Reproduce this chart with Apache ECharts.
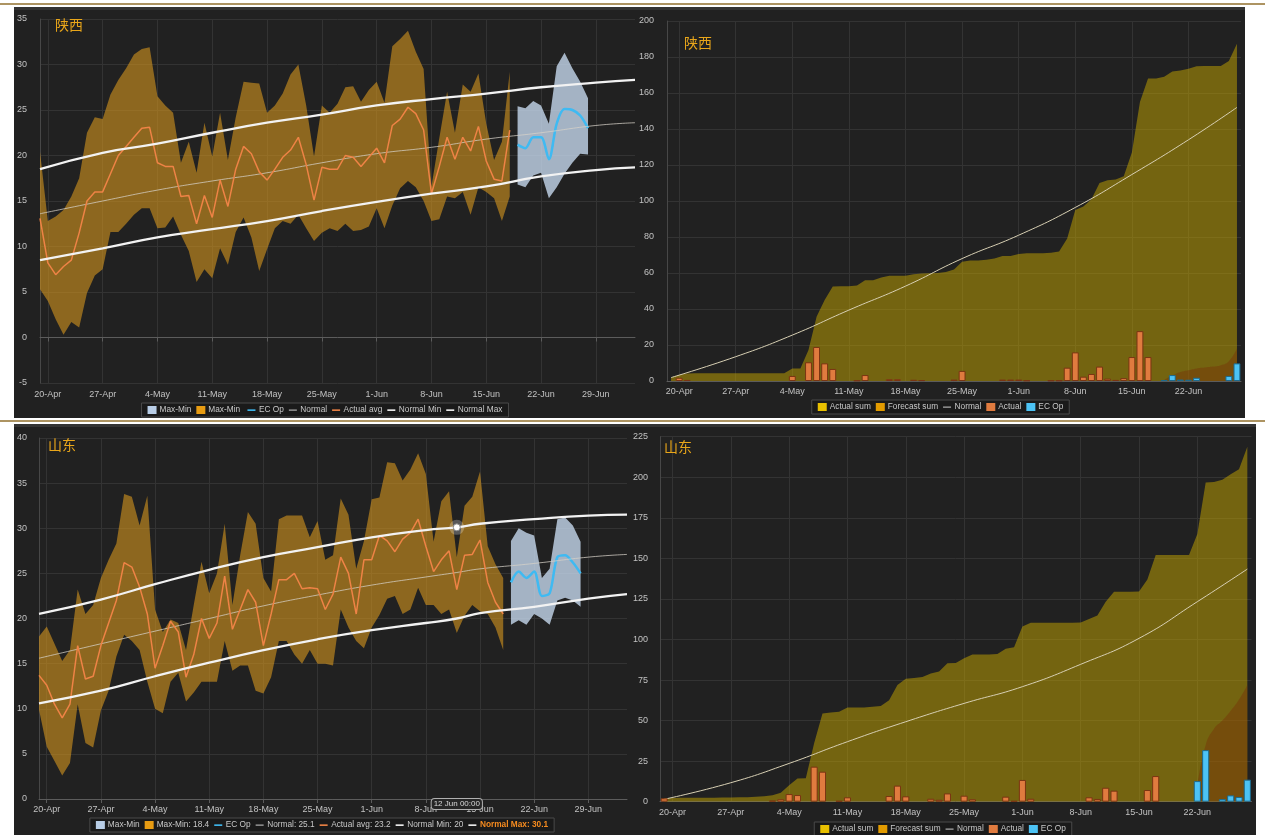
<!DOCTYPE html>
<html><head><meta charset="utf-8">
<script src="https://cdn.jsdelivr.net/npm/echarts@6/dist/echarts.min.js"></script>
<style>
html,body{margin:0;padding:0;background:#fff;width:1265px;height:838px;overflow:hidden;position:relative;}
.rule{position:absolute;left:0;width:1265px;height:2px;background:#ad9462;}
.panel{position:absolute;background:#212121;}
.strip{position:absolute;height:3px;background:#343434;z-index:5;}
</style></head><body>
<div class="rule" style="top:3px"></div>
<div class="rule" style="top:420px"></div>
<div id="tl" class="panel" style="left:14px;top:7px;width:622px;height:411px"></div>
<div id="tr" class="panel" style="left:636px;top:7px;width:609px;height:411px"></div>
<div id="bl" class="panel" style="left:14px;top:424px;width:616px;height:411px"></div>
<div id="br" class="panel" style="left:630px;top:424px;width:626px;height:411px"></div>
<div class="strip" style="left:14px;top:7px;width:622px"></div>
<div class="strip" style="left:636px;top:7px;width:609px"></div>
<div class="strip" style="left:14px;top:424px;width:616px"></div>
<div class="strip" style="left:630px;top:424px;width:626px"></div>
<script>
// ---------- categories ----------
const days = ['19-Apr','20-Apr','21-Apr','22-Apr','23-Apr','24-Apr','25-Apr','26-Apr','27-Apr','28-Apr','29-Apr','30-Apr',
'1-May','2-May','3-May','4-May','5-May','6-May','7-May','8-May','9-May','10-May','11-May','12-May','13-May','14-May','15-May','16-May','17-May','18-May','19-May','20-May','21-May','22-May','23-May','24-May','25-May','26-May','27-May','28-May','29-May','30-May','31-May',
'1-Jun','2-Jun','3-Jun','4-Jun','5-Jun','6-Jun','7-Jun','8-Jun','9-Jun','10-Jun','11-Jun','12-Jun','13-Jun','14-Jun','15-Jun','16-Jun','17-Jun','18-Jun','19-Jun','20-Jun','21-Jun','22-Jun','23-Jun','24-Jun','25-Jun','26-Jun','27-Jun','28-Jun','29-Jun','30-Jun',
'1-Jul','2-Jul','3-Jul','4-Jul'];
const precipDays = days.slice(0, days.indexOf('28-Jun') + 1);
const weekTicks = ['20-Apr','27-Apr','4-May','11-May','18-May','25-May','1-Jun','8-Jun','15-Jun','22-Jun','29-Jun'];
const obsStart = '19-Apr';
const fcStart = '19-Jun';

// ---------- 陕西 temperature ----------
const sxMax = [20.4,12.8,13.3,14.0,15.5,17.5,22.5,24.2,24.0,26.7,28.3,29.6,
31.1,31.7,31.9,26.5,25.5,24.7,19.2,21.5,18.1,23.6,19.9,24.7,19.5,24.2,28.1,28.0,27.9,24.7,25.5,26.8,28.9,30.0,25.5,19.9,25.5,24.7,25.7,27.5,27.6,25.9,27.2,
28.1,25.8,32.0,32.8,33.7,31.4,29.5,16.6,21.9,27.0,22.5,27.8,27.0,29.0,23.5,19.5,21.5,29.2];
const sxMin = [5.3,4.0,2.0,0.3,1.7,1.1,4.9,6.8,7.5,11.6,11.6,12.5,
13.5,14.2,14.2,12.0,12.1,13.3,11.3,9.5,6.1,7.5,6.5,9.8,8.0,11.6,13.2,11.0,7.3,9.7,12.0,12.8,12.5,13.5,12.0,10.6,11.5,12.0,11.7,12.5,11.7,11.8,12.2,
14.2,12.0,14.5,16.4,17.2,16.5,15.0,12.8,13.0,15.5,15.3,16.0,13.5,16.5,16.0,15.3,12.8,15.5];
const sxAvg = [13.1,8.2,6.9,7.8,8.5,11.5,15.0,16.0,16.0,18.0,20.0,21.0,
22.0,23.0,23.1,19.2,18.8,18.8,15.5,15.6,12.5,15.6,13.2,17.3,14.4,18.5,21.0,20.2,18.2,17.3,18.5,19.8,20.6,22.0,19.0,15.1,18.7,18.5,18.5,20.0,19.8,18.8,19.8,
20.8,19.2,23.3,24.0,25.3,24.6,22.8,15.8,18.8,22.0,19.6,22.0,20.5,23.2,19.4,17.4,17.2,22.8];
const sxEcMax = [25.4,25.2,26.0,25.5,23.5,29.8,31.3,29.6,28.1,26.3];
const sxEcMin = [16.8,16.5,17.8,18.1,15.3,16.5,18.0,19.2,20.2,20.1];
const sxEcOp  = [21.2,20.8,22.0,22.0,19.6,23.5,25.1,25.0,24.4,23.0];
const sxNormal = [['19-Apr',13.6],['27-Apr',15.0],['4-May',16.2],['11-May',17.2],['18-May',18.1],['25-May',19.2],['1-Jun',20.2],['8-Jun',20.9],['15-Jun',21.8],['22-Jun',22.5],['29-Jun',23.3],['4-Jul',23.6]];
const sxNormMin = [['19-Apr',8.5],['27-Apr',9.8],['4-May',11.0],['11-May',11.9],['18-May',12.8],['25-May',13.9],['1-Jun',14.9],['8-Jun',15.8],['15-Jun',16.6],['22-Jun',17.7],['29-Jun',18.4],['4-Jul',18.7]];
const sxNormMax = [['19-Apr',18.5],['27-Apr',20.3],['4-May',21.3],['11-May',22.5],['18-May',23.6],['25-May',24.5],['1-Jun',25.5],['8-Jun',26.2],['15-Jun',26.8],['22-Jun',27.5],['29-Jun',28.0],['4-Jul',28.3]];

// ---------- 山东 temperature ----------
const sdMax = [18.0,19.1,17.2,15.3,16.5,23.2,20.5,21.5,24.5,26.5,28.3,33.8,
33.5,30.3,33.6,21.0,18.5,19.9,19.5,16.5,21.5,26.3,22.8,25.0,30.5,21.5,27.0,31.8,30.5,24.5,23.0,31.0,31.4,31.4,31.4,29.0,30.8,26.5,27.0,33.3,31.5,25.5,28.6,
33.2,33.4,37.3,37.2,35.3,36.5,38.3,36.0,28.5,33.0,34.1,26.8,32.5,33.5,36.3,28.0,26.0,24.5];
const sdMin = [9.9,5.8,4.2,2.6,4.0,10.5,6.2,5.7,9.8,12.0,15.8,18.2,
17.5,16.5,13.0,10.0,9.5,13.0,14.0,10.8,11.8,13.0,13.0,13.0,17.5,14.2,14.8,14.8,12.0,11.7,13.5,17.5,17.5,16.0,15.0,16.5,15.0,15.0,14.8,21.0,19.0,17.5,16.7,
19.0,20.4,22.2,22.5,20.5,21.0,23.4,21.5,21.5,20.5,21.0,18.4,20.3,21.5,20.8,20.5,19.0,16.5];
const sdAvg = [13.7,12.6,10.5,9.0,10.5,17.0,13.3,13.6,17.0,19.5,22.0,26.2,
25.7,23.5,20.5,14.5,17.0,19.7,18.5,13.5,16.0,20.0,17.8,19.5,24.7,18.8,21.0,23.2,21.8,17.0,20.5,24.3,24.3,25.0,23.3,23.4,23.3,21.0,22.7,26.8,25.0,20.5,26.5,
26.5,29.2,28.6,27.4,28.8,29.5,31.0,28.0,25.2,26.5,27.5,23.2,27.0,27.1,28.7,24.0,21.8,20.5];
const sdEcMax = [28.6,30.0,29.5,29.2,24.5,25.5,31.0,31.2,30.3,28.5];
const sdEcMin = [19.3,19.8,19.3,20.5,20.0,19.3,22.0,22.3,22.0,21.3];
const sdEcOp  = [24.0,25.2,24.5,25.2,22.5,22.8,26.8,27.0,26.2,25.0];
const sdNormal = [['19-Apr',15.6],['27-Apr',17.2],['4-May',18.6],['11-May',20.0],['18-May',21.4],['25-May',22.6],['1-Jun',23.7],['8-Jun',24.6],['12-Jun',25.1],['15-Jun',25.5],['22-Jun',26.1],['29-Jun',26.8],['4-Jul',27.1]];
const sdNormMin = [['19-Apr',10.6],['27-Apr',12.0],['4-May',13.6],['11-May',15.1],['18-May',16.5],['25-May',17.7],['1-Jun',18.7],['8-Jun',19.5],['12-Jun',20.0],['15-Jun',20.6],['22-Jun',21.3],['29-Jun',22.2],['4-Jul',22.7]];
const sdNormMax = [['19-Apr',20.5],['27-Apr',22.1],['4-May',23.8],['11-May',25.4],['18-May',26.8],['25-May',27.9],['1-Jun',29.0],['8-Jun',29.8],['12-Jun',30.1],['15-Jun',30.5],['22-Jun',31.0],['29-Jun',31.4],['4-Jul',31.5]];
const hoverDay = '12-Jun';
const hoverLabel = '12 Jun 00:00';

// ---------- 陕西 precipitation ----------
const sxSum = [2.0,3.5,4.1,4.3,4.3,4.3,4.3,4.3,4.3,4.3,4.3,4.3,
4.3,4.3,4.3,7.0,7.0,17.2,35.7,45.0,52.5,52.7,52.7,53.0,56.0,56.0,57.5,58.5,58.5,58.5,59.3,59.7,59.8,60.0,60.5,62.0,66.2,67.0,67.0,67.3,68.0,69.5,69.5,
70.6,71.0,71.0,71.0,71.2,72.0,79.2,95.0,97.0,101.0,110.0,111.5,112.0,113.8,127.0,155.0,168.0,168.0,169.0,172.0,172.5,173.5,174.8,175.0,175.0,175.0,177.8,187.4];
const sxFcSum = [0.5,3.0,5.0,6.0,7.0,7.5,8.0,8.8,11.0,18.0];
const sxRain = [null,1.8,0.6,null,null,null,null,null,null,null,null,null,
null,null,null,2.8,null,10.4,18.9,9.8,6.7,null,null,0.3,3.3,null,null,1.0,1.0,null,0.7,0.5,null,null,null,0.8,5.6,null,null,null,null,0.8,0.8,
0.8,0.3,null,null,0.3,0.3,7.4,15.9,2.4,3.9,8.0,1.3,0.6,1.6,13.3,27.7,13.3,null];
const sxRainEc = [0.5,3.3,0.8,0.7,1.8,null,null,null,2.8,9.8];
const sxRainNormal = [['19-Apr',1.9],['27-Apr',13.5],['4-May',25.5],['11-May',39.4],['18-May',52.7],['25-May',68.0],['1-Jun',81.0],['8-Jun',96.4],['15-Jun',114.7],['22-Jun',134.0],['28-Jun',152.0]];

// ---------- 山东 precipitation ----------
const sdSum = [2.1,2.3,2.4,2.5,2.5,2.5,2.5,2.6,2.6,2.7,2.8,3.0,
3.3,4.0,5.5,10.2,14.3,14.5,36.0,54.4,55.0,55.5,58.1,58.1,58.1,58.5,59.0,62.5,72.0,75.8,76.3,76.8,79.0,80.3,85.3,85.5,88.5,90.8,90.8,90.8,91.0,94.3,95.2,
108.0,110.3,110.3,110.3,110.3,110.3,110.3,110.5,112.6,114.8,123.3,129.4,129.4,129.4,129.6,137.0,152.0,152.0,152.0,152.0,152.0,165.0,196.8,197.0,198.5,201.8,205.0,218.8];
const sdFcSum = [null,null,null,10.0,35.0,45.0,50.0,56.0,63.0,72.0];
const sdRain = [2.1,null,null,null,null,null,null,null,null,null,null,null,
null,0.7,1.5,4.7,4.1,null,21.6,18.5,null,0.5,2.7,null,null,null,null,3.5,9.9,3.3,null,null,1.8,1.2,5.1,null,3.7,1.5,null,null,null,3.1,0.5,
13.4,1.8,null,null,null,null,null,null,2.7,1.7,8.6,6.8,null,null,null,7.2,15.8,null];
const sdRainEc = [null,null,null,12.7,31.8,null,1.6,3.9,2.9,13.6];
const sdRainNormal = [['19-Apr',1.5],['27-Apr',11.7],['4-May',23.6],['11-May',37.0],['18-May',49.3],['25-May',60.6],['1-Jun',70.9],['8-Jun',84.7],['15-Jun',100.7],['22-Jun',123.3],['28-Jun',143.4]];

// ---------- helpers ----------
const FONT = 'Liberation Sans, Arial, sans-serif';
const LINE_ICON = 'path://M0,0L0,0M0,4.2L10,4.2L10,6.2L0,6.2ZM10,10L10,10';
const isTick = (i, v) => weekTicks.indexOf(v) >= 0;
function pairs(start, vals) {
  const s = days.indexOf(start);
  const out = [];
  vals.forEach((v, i) => { if (v != null) out.push([days[s + i], v]); });
  return out;
}
function diff(a, b) { return a.map((v, i) => (v == null || b[i] == null) ? null : +(v - b[i]).toFixed(2)); }
const axisText = { color: '#c2c2c2', fontSize: 9, fontFamily: FONT };
const SQ = { icon: 'rect', itemStyle: { borderWidth: 0 } };

function xAxisCfg(cats, gap, margin, extra) {
  return Object.assign({
    type: 'category', data: cats, boundaryGap: gap,
    axisLine: { lineStyle: { color: '#5c5c5c' } },
    axisTick: { alignWithLabel: true, interval: isTick, length: 4, lineStyle: { color: '#5c5c5c' } },
    axisLabel: Object.assign({ interval: isTick, margin: margin }, axisText),
    splitLine: { show: true, alignWithLabel: true, interval: isTick, lineStyle: { color: '#333' } }
  }, extra || {});
}
function yAxisCfg(min, max, step, margin) {
  return {
    type: 'value', min: min, max: max, interval: step,
    axisLine: { show: true, lineStyle: { color: '#474747' } },
    axisTick: { show: false },
    axisLabel: Object.assign({ margin: margin }, axisText),
    splitLine: { lineStyle: { color: '#333' } }
  };
}
function legendCfg(top, items) {
  return {
    top: top, left: 'center', selectedMode: false,
    backgroundColor: '#1a1a1a', borderColor: '#4a4a4a', borderWidth: 1,
    padding: [3, 6], itemGap: 5, itemWidth: 9, itemHeight: 8,
    textStyle: { color: '#c8c8c8', fontSize: 8.3, fontFamily: FONT, padding: [0, 0, 0, -2] },
    data: items
  };
}
function titleCfg(text, left, top) {
  return { text: text, left: left, top: top, textStyle: { color: '#e9a61a', fontSize: 14, fontWeight: 'normal', fontFamily: 'Noto Sans CJK SC' } };
}

function tempOption(o) {
  const L = o.names;
  return {
    animation: false,
    title: titleCfg(o.title, o.titlePos[0], o.titlePos[1]),
    grid: o.grid,
    xAxis: xAxisCfg(days, false, o.xMargin, o.xExtra),
    yAxis: yAxisCfg(o.yMin, o.yMax, o.yStep, o.yMargin),
    legend: legendCfg(o.legendTop, [
      Object.assign({ name: L[0] }, SQ), Object.assign({ name: L[1] }, SQ),
      { name: L[2], icon: LINE_ICON }, { name: L[3], icon: LINE_ICON }, { name: L[4], icon: LINE_ICON }, { name: L[5], icon: LINE_ICON },
      Object.assign({ name: L[6], icon: LINE_ICON }, o.lastLegendStyle ? { textStyle: o.lastLegendStyle } : {})
    ]),
    series: [
      { name: '_ecLow', type: 'line', stack: 'ec', data: pairs(fcStart, o.ecMin), symbol: 'none', lineStyle: { opacity: 0 }, silent: true },
      { name: L[0], type: 'line', stack: 'ec', data: pairs(fcStart, diff(o.ecMax, o.ecMin)), symbol: 'none',
        lineStyle: { width: 0 }, itemStyle: { color: '#b8cde6' }, areaStyle: { color: 'rgba(198,216,238,0.8)', opacity: 1 } },
      { name: '_obsLow', type: 'line', stack: 'obs', data: pairs(obsStart, o.min), symbol: 'none', lineStyle: { opacity: 0 }, silent: true },
      { name: L[1], type: 'line', stack: 'obs', data: pairs(obsStart, diff(o.max, o.min)), symbol: 'none',
        lineStyle: { width: 0 }, itemStyle: { color: '#e89c12' }, areaStyle: { color: 'rgba(214,150,30,0.6)', opacity: 1 } },
      { name: L[2], type: 'line', data: pairs(fcStart, o.ecOp), symbol: 'none', smooth: 0.3,
        itemStyle: { color: '#3fbaf2' }, lineStyle: { color: '#3fbaf2', width: 2.5 } },
      { name: L[3], type: 'line', data: o.normal, symbol: 'none', smooth: true,
        itemStyle: { color: '#8c8c8c' }, lineStyle: { color: 'rgba(215,210,200,0.75)', width: 1 } },
      { name: L[4], type: 'line', data: pairs(obsStart, o.avg), symbol: 'none',
        itemStyle: { color: '#ee8346' }, lineStyle: { color: '#ee8346', width: 1.5 } },
      { name: L[5], type: 'line', data: o.nMin, symbol: 'none', smooth: true,
        itemStyle: { color: '#f2f2f2' }, lineStyle: { color: '#f2f2f2', width: 2.3 } },
      Object.assign({ name: L[6], type: 'line', data: o.nMax, symbol: 'none', smooth: true,
        itemStyle: { color: '#f2f2f2' }, lineStyle: { color: '#f2f2f2', width: 2.3 } }, o.nMaxExtra || {})
    ]
  };
}

function precipOption(o) {
  const L = ['Actual sum', 'Forecast sum', 'Normal', 'Actual', 'EC Op'];
  return {
    animation: false,
    title: titleCfg(o.title, o.titlePos[0], o.titlePos[1]),
    grid: o.grid,
    xAxis: xAxisCfg(precipDays, true, o.xMargin),
    yAxis: yAxisCfg(0, o.yMax, o.yStep, o.yMargin),
    legend: legendCfg(o.legendTop, [
      Object.assign({ name: L[0] }, SQ), Object.assign({ name: L[1] }, SQ), { name: L[2], icon: LINE_ICON },
      Object.assign({ name: L[3] }, SQ), Object.assign({ name: L[4] }, SQ)
    ]),
    series: [
      { name: L[0], type: 'line', data: pairs(obsStart, o.sum), symbol: 'none', z: 1,
        lineStyle: { width: 0 }, itemStyle: { color: '#e8c000' }, areaStyle: { color: 'rgba(200,168,0,0.5)', opacity: 1 } },
      { name: L[1], type: 'line', data: pairs(fcStart, o.fcSum), symbol: 'none', smooth: true, z: 1,
        lineStyle: { width: 0 }, itemStyle: { color: '#e29b00' }, areaStyle: { color: 'rgba(120,45,8,0.4)', opacity: 1 } },
      { name: L[2], type: 'line', data: o.normal, symbol: 'none', smooth: true, z: 2,
        itemStyle: { color: '#8c8c8c' }, lineStyle: { color: '#d8d0b4', width: 1 } },
      { name: L[3], type: 'bar', data: pairs(obsStart, o.rain), barGap: '-100%', barCategoryGap: '15%', z: 3,
        itemStyle: { color: '#e07b3f', borderColor: '#7a3512', borderWidth: 1 } },
      { name: L[4], type: 'bar', data: pairs(fcStart, o.rainEc), barGap: '-100%', barCategoryGap: '15%', z: 3,
        itemStyle: { color: '#4cc3f5', borderColor: '#1d6a8e', borderWidth: 1 } }
    ]
  };
}

// ---------- charts ----------
echarts.init(document.getElementById('tl')).setOption(tempOption({
  title: '陕西', titlePos: [36, 6],
  grid: { left: 24, right: 1, top: 12, bottom: 35 },
  xMargin: 7, yMargin: 13, yMin: -5, yMax: 35, yStep: 5, legendTop: 396,
  names: ['Max-Min', 'Max-Min ', 'EC Op', 'Normal', 'Actual avg', 'Normal Min', 'Normal Max'],
  max: sxMax, min: sxMin, avg: sxAvg, ecMax: sxEcMax, ecMin: sxEcMin, ecOp: sxEcOp,
  normal: sxNormal, nMin: sxNormMin, nMax: sxNormMax
}));

const hoverMax = sdNormMax.find(p => p[0] === hoverDay)[1];
echarts.init(document.getElementById('bl')).setOption(tempOption({
  title: '山东', titlePos: [29, 9],
  grid: { left: 23.5, right: 3, top: 14, bottom: 36 },
  xMargin: 6, yMargin: 12, yMin: 0, yMax: 40, yStep: 5, legendTop: 394,
  names: ['Max-Min', 'Max-Min: 18.4', 'EC Op', 'Normal: 25.1', 'Actual avg: 23.2', 'Normal Min: 20', 'Normal Max: 30.1'],
  lastLegendStyle: { color: '#f68b1f', fontWeight: 'bold' },
  max: sdMax, min: sdMin, avg: sdAvg, ecMax: sdEcMax, ecMin: sdEcMin, ecOp: sdEcOp,
  normal: sdNormal, nMin: sdNormMin, nMax: sdNormMax,
  xExtra: {
    axisPointer: {
      show: true, value: hoverDay, status: 'show', triggerTooltip: false, snap: false,
      lineStyle: { color: 'rgba(0,0,0,0)' },
      label: { show: true, formatter: hoverLabel, backgroundColor: '#262626', borderColor: '#b0b0b0', borderWidth: 1,
        color: '#d8d8d8', fontSize: 8, fontFamily: FONT, padding: [1, 2], margin: 0 },
      handle: { show: false }
    }
  },
  nMaxExtra: {
    markPoint: {
      silent: true, label: { show: false },
      data: [
        { coord: [hoverDay, hoverMax], symbol: 'circle', symbolSize: 15, itemStyle: { color: 'rgba(255,255,255,0.25)' } },
        { coord: [hoverDay, hoverMax], symbol: 'circle', symbolSize: 7, itemStyle: { color: '#ffffff', borderColor: '#888', borderWidth: 1 } }
      ]
    }
  }
}));

echarts.init(document.getElementById('tr')).setOption(precipOption({
  title: '陕西', titlePos: [43, 24],
  grid: { left: 26, right: 4, top: 14, bottom: 37 },
  xMargin: 6, yMargin: 13, yMax: 200, yStep: 20, legendTop: 393,
  sum: sxSum, fcSum: sxFcSum, rain: sxRain, rainEc: sxRainEc, normal: sxRainNormal
}));

echarts.init(document.getElementById('br')).setOption(precipOption({
  title: '山东', titlePos: [29, 11],
  grid: { left: 27.5, right: 4.5, top: 12.7, bottom: 33.3 },
  xMargin: 6.5, yMargin: 12, yMax: 225, yStep: 25, legendTop: 398,
  sum: sdSum, fcSum: sdFcSum, rain: sdRain, rainEc: sdRainEc, normal: sdRainNormal
}));
</script>
</body></html>
